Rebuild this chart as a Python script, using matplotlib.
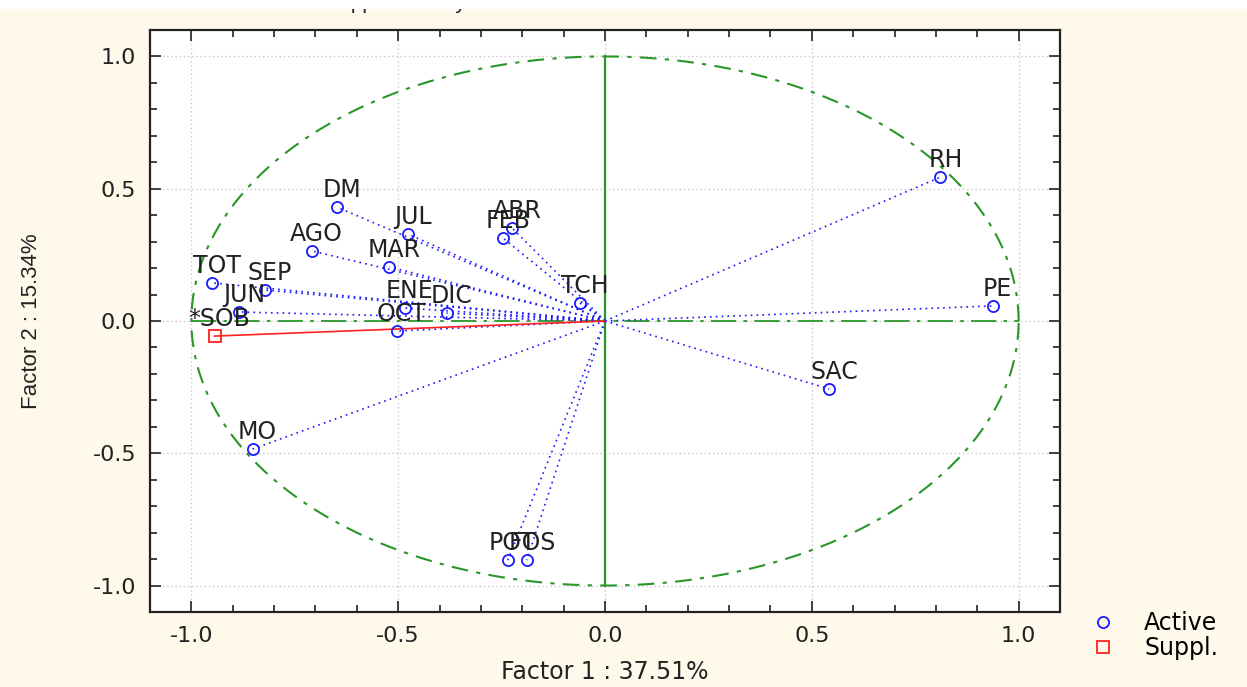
import numpy as np
import matplotlib.pyplot as plt
from matplotlib.lines import Line2D
from matplotlib.patches import Rectangle

plt.rcParams['font.family'] = ['DejaVu Sans']

# active variables (factor 1, factor 2 coordinates)
act_names = ["RH", "PE", "SAC", "DM", "JUL", "ABR", "FEB", "AGO", "MAR", "TCH",
             "TOT", "SEP", "JUN", "ENE", "DIC", "OCT", "MO", "POT", "FOS"]
act_f1 = [0.811, 0.937, 0.542, -0.649, -0.477, -0.225, -0.247, -0.709, -0.521, -0.061,
          -0.949, -0.823, -0.884, -0.484, -0.383, -0.504, -0.852, -0.235, -0.189]
act_f2 = [0.544, 0.057, -0.257, 0.431, 0.329, 0.352, 0.314, 0.265, 0.204, 0.068,
          0.144, 0.117, 0.034, 0.049, 0.030, -0.038, -0.484, -0.904, -0.904]

# supplementary variables
sup_names = ["*SOB"]
sup_f1 = [-0.944]
sup_f2 = [-0.057]

ticks = [-1.0, -0.5, 0.0, 0.5, 1.0]

W, H = 1247, 687
fig = plt.figure(figsize=(W / 100, H / 100), dpi=100, facecolor='#fff9ec')
ax = fig.add_axes([150 / W, 1 - 612 / H, 910 / W, 582 / H])
ax.set_facecolor('white')

green = '#2a962a'
blue = '#1a1aff'
red = '#ff2020'
txt = '#222222'

# unit circle and axes through origin
t = np.linspace(0, 2 * np.pi, 400)
ax.plot(np.cos(t), np.sin(t), color=green, lw=1.5, ls=(0, (8, 4, 2, 4)), zorder=2)
ax.plot([0, 0], [-1, 1], color=green, lw=1.6, zorder=2)
ax.plot([-1, 1], [0, 0], color=green, lw=1.3, ls=(0, (14, 4, 2, 4)), zorder=2)

# vectors from origin
for x, y in zip(act_f1, act_f2):
    ax.plot([0, x], [0, y], color=blue, lw=1.2, ls=(0, (1, 2.5)), zorder=3)
for x, y in zip(sup_f1, sup_f2):
    ax.plot([0, x], [0, y], color=red, lw=1.2, zorder=3)

ax.plot(act_f1, act_f2, 'o', ms=8, mfc='none', mec=blue, mew=1.3, zorder=4)
ax.plot(sup_f1, sup_f2, 's', ms=9, mfc='none', mec=red, mew=1.3, zorder=4)

for name, x, y in zip(act_names + sup_names, act_f1 + sup_f1, act_f2 + sup_f2):
    ax.annotate(name, (x, y), xytext=(5, 10), textcoords='offset pixels',
                ha='center', va='baseline', fontsize=17, color=txt, zorder=5)

ax.set_xlim(-1.1, 1.1)
ax.set_ylim(-1.1, 1.1)
ax.set_xticks(ticks)
ax.set_yticks(ticks)
ax.set_xticklabels(["%.1f" % v for v in ticks])
ax.set_yticklabels(["%.1f" % v for v in ticks])
ax.set_xticks(np.arange(-1.1, 1.11, 0.1), minor=True)
ax.set_yticks(np.arange(-1.1, 1.11, 0.1), minor=True)
ax.tick_params(which='both', direction='in', top=True, right=True, labelsize=16,
               colors=txt, width=1.2)
ax.tick_params(which='major', length=8, pad=10)
ax.tick_params(which='minor', length=5)
ax.grid(True, which='major', color='#c8c8c8', ls=(0, (1, 2)), lw=1)
for s in ax.spines.values():
    s.set_linewidth(1.6)
    s.set_color(txt)

ax.set_xlabel("Factor 1 : 37.51%", fontsize=17, color=txt, labelpad=10)
ax.set_ylabel("Factor 2 : 15.34%", fontsize=16, color=txt, labelpad=36,
              family='Liberation Sans')

handles = [Line2D([], [], marker='o', ls='none', ms=8, mfc='none', mec=blue, mew=1.3),
           Line2D([], [], marker='s', ls='none', ms=9, mfc='none', mec=red, mew=1.3)]
fig.legend(handles, ["Active", "Suppl."], loc='upper left', frameon=False,
           bbox_to_anchor=(1064 / W, 1 - 590 / H), fontsize=17,
           handletextpad=1.0, labelspacing=0.05, handlelength=1.5)

# clipped title at the very top
fig.text(317 / W, 1 - 9 / H, "*Supplementary variable", fontsize=15,
         va='baseline', ha='left', color=txt, family='Liberation Sans')
fig.patches.append(Rectangle((0, 1 - 9 / H), 1, 9 / H, transform=fig.transFigure,
                             facecolor='white', edgecolor='none', zorder=10))

fig.savefig('out.png', dpi=100, facecolor=fig.get_facecolor())
